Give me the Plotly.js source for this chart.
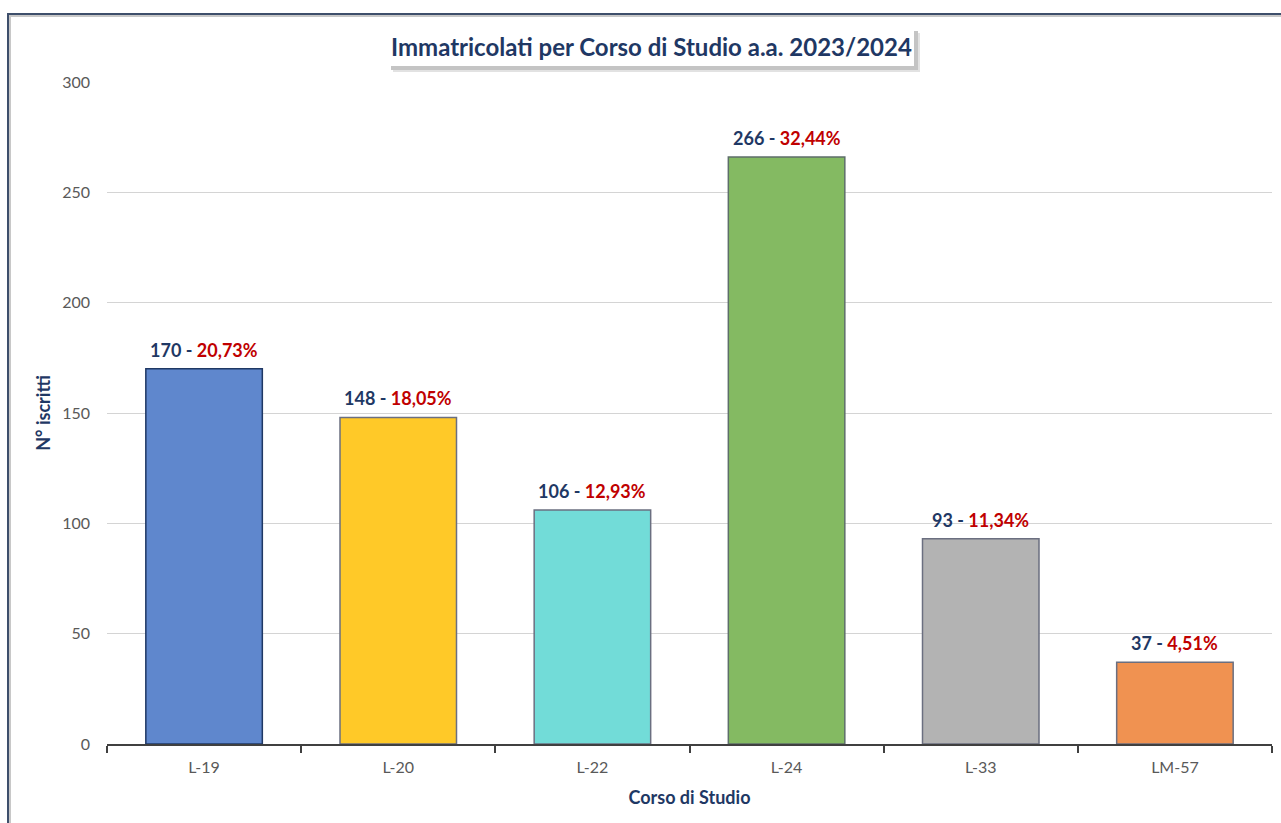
<!DOCTYPE html>
<html><head><meta charset="utf-8">
<script src="https://cdn.plot.ly/plotly-3.0.1.min.js"></script>
<style>
html,body{margin:0;padding:0;background:#fff;overflow:hidden}
#chart{width:1281px;height:823px;position:absolute;left:0;top:0}
#frame{position:absolute;left:7px;top:13px;width:1400px;height:900px;border-left:2px solid #3e4f6b;border-top:2px solid #3e4f6b;box-shadow:inset 2px 2px 0 #c8c8c8;pointer-events:none;z-index:5}
</style></head>
<body>
<div id="chart"></div>
<div id="frame"></div>
<script>
const categories = ["L-19","L-20","L-22","L-24","L-33","LM-57"];
const iscritti = [170,148,106,266,93,37];
const percentuali = ["20,73%","18,05%","12,93%","32,44%","11,34%","4,51%"];
const barColors = ["#5f87cd","#ffc928","#72dcd8","#84ba62","#b3b3b3","#f09251"];
const barLines = ["#1f3864","#6b6f80","#6b6f80","#5d6e6a","#6b6f80","#6b6f80"];
const yTicks = [0,50,100,150,200,250,300];

const navy = "#1f3864";
const font = "Lato, 'Open Sans', sans-serif";

const trace = {
  type: "bar",
  x: categories,
  y: iscritti,
  marker: {color: barColors, line: {color: barLines, width: 1.5}},
  hoverinfo: "x+y"
};

const annotations = categories.map((c,i)=>({
  x: c, y: iscritti[i], xref: "x", yref: "y",
  yanchor: "bottom", yshift: 6, showarrow: false,
  text: `<b><span style="color:${navy}">${iscritti[i]}</span><span style="color:${navy}"> - </span><span style="color:#c00000">${percentuali[i]}</span></b>`,
  font: {family: font, size: 18}
}));

// helpers for the decorative title box (pixel -> paper)
const L = 107, T = 82, PW = 1165, PH = 662;
const px = v => (v - L) / PW;
const py = v => (T + PH - v) / PH;

annotations.push({
  xref: "paper", yref: "paper", x: px(651), y: py(46), yanchor: "middle", xanchor: "center",
  showarrow: false,
  text: "<b>Immatricolati per Corso di Studio a.a. 2023/2024</b>",
  font: {family: font, size: 24, color: navy}
});

const shapes = [
  {type:"rect", xref:"paper", yref:"paper", x0:px(393), x1:px(920), y0:py(33), y1:py(72), fillcolor:"#e2e2e2", line:{width:0}, layer:"above"},
  {type:"rect", xref:"paper", yref:"paper", x0:px(391), x1:px(918), y0:py(31), y1:py(70), fillcolor:"#c4c4c4", line:{width:0}, layer:"above"},
  {type:"rect", xref:"paper", yref:"paper", x0:px(387), x1:px(914), y0:py(27), y1:py(66), fillcolor:"#ffffff", line:{width:0}, layer:"above"}
];

const layout = {
  width: 1281, height: 823,
  margin: {l: L, r: 9, t: T, b: 79},
  paper_bgcolor: "#ffffff", plot_bgcolor: "#ffffff",
  showlegend: false,
  bargap: 0.4,
  font: {family: font, color: "#595959"},
  xaxis: {
    type: "category",
    showline: true, linecolor: "#404040", linewidth: 2,
    ticks: "outside", tickson: "boundaries", ticklen: 7, tickcolor: "#404040", tickwidth: 2,
    tickfont: {size: 16, color: "#595959"},
    ticklabelstandoff: 8,
    showgrid: false,
    title: {text: "<b>Corso di Studio</b>", font: {size: 18, color: navy}, standoff: 16}
  },
  yaxis: {
    range: [0, 300], tickvals: yTicks, ticktext: yTicks.map(String),
    showgrid: true, gridcolor: "#d4d4d4", gridwidth: 1,
    zeroline: false, showline: false, ticks: "",
    tickfont: {size: 16, color: "#595959"},
    ticklabelstandoff: 16,
    title: {text: "<b>N° iscritti</b>", font: {size: 18, color: navy}, standoff: 6}
  },
  annotations: annotations,
  shapes: shapes
};

Plotly.newPlot("chart", [trace], layout, {displayModeBar: false, staticPlot: true});
</script>
</body></html>
